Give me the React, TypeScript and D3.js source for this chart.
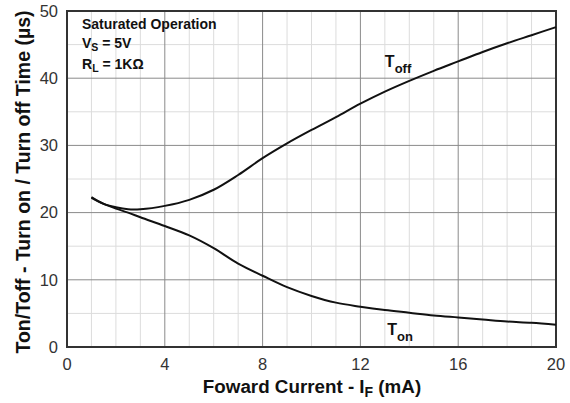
import React from 'react';
import * as d3 from 'd3';

const current = [1, 1.5, 2, 2.5, 3, 4, 5, 6, 7, 8, 9, 10, 11, 12, 13, 14, 15, 16, 17, 18, 19, 20];
const tOff = [22.3, 21.3, 20.8, 20.5, 20.5, 21.0, 21.9, 23.4, 25.6, 28.1, 30.3, 32.3, 34.2, 36.2, 38.0, 39.6, 41.1, 42.5, 43.9, 45.2, 46.4, 47.6];
const tOn = [22.2, 21.3, 20.6, 20.0, 19.3, 18.0, 16.6, 14.7, 12.4, 10.6, 8.9, 7.6, 6.6, 6.0, 5.5, 5.1, 4.7, 4.4, 4.1, 3.8, 3.6, 3.3];
const xTicks = [0, 4, 8, 12, 16, 20];
const yTicks = [0, 10, 20, 30, 40, 50];

const W = 570;
const H = 403;
const margin = { top: 11, right: 14, bottom: 56, left: 67 };
const FONT = '"Liberation Sans", Arial, sans-serif';

export default function App() {
  const innerW = W - margin.left - margin.right;
  const innerH = H - margin.top - margin.bottom;
  const x = d3.scaleLinear().domain([0, 20]).range([0, innerW]);
  const y = d3.scaleLinear().domain([0, 50]).range([innerH, 0]);

  const line = d3
    .line<number>()
    .x((_, i) => x(current[i]))
    .y((d) => y(d))
    .curve(d3.curveCatmullRom);

  const minorX = d3.range(1, 20).filter((v) => v % 4 !== 0);
  const minorY = d3.range(5, 50, 10);

  return (
    <svg width={W} height={H} style={{ position: 'absolute', left: 0, top: 0, background: '#fff' }}>
      <g transform={`translate(${margin.left},${margin.top})`} fontFamily={FONT}>
        {minorX.map((v) => (
          <line key={'mx' + v} x1={x(v)} x2={x(v)} y1={0} y2={innerH} stroke="#dcdcdc" strokeWidth={1} />
        ))}
        {minorY.map((v) => (
          <line key={'my' + v} x1={0} x2={innerW} y1={y(v)} y2={y(v)} stroke="#dcdcdc" strokeWidth={1} />
        ))}
        {xTicks.slice(1, -1).map((v) => (
          <line key={'gx' + v} x1={x(v)} x2={x(v)} y1={0} y2={innerH} stroke="#8a8a8a" strokeWidth={1} />
        ))}
        {yTicks.slice(1, -1).map((v) => (
          <line key={'gy' + v} x1={0} x2={innerW} y1={y(v)} y2={y(v)} stroke="#8a8a8a" strokeWidth={1} />
        ))}
        <rect x={0} y={0} width={innerW} height={innerH} fill="none" stroke="#333" strokeWidth={2} />

        {yTicks.map((v) => (
          <text key={'ty' + v} x={-9} y={y(v)} dy="0.35em" textAnchor="end" fontSize={16.5} fill="#333">
            {v}
          </text>
        ))}
        {xTicks.map((v) => (
          <text key={'tx' + v} x={x(v)} y={innerH + 23} textAnchor="middle" fontSize={16.5} fill="#333">
            {v}
          </text>
        ))}

        <path d={line(tOff) ?? ''} fill="none" stroke="#111" strokeWidth={2} />
        <path d={line(tOn) ?? ''} fill="none" stroke="#111" strokeWidth={2} />

        <text x={x(13)} y={y(41.6)} fontSize={16} fontWeight="bold" fill="#111">
          T<tspan fontSize={13} dy={6}>off</tspan>
        </text>
        <text x={x(13.1)} y={y(1.8)} fontSize={16} fontWeight="bold" fill="#111">
          T<tspan fontSize={13} dy={6}>on</tspan>
        </text>

        <text x={15} y={18} fontSize={14} fontWeight="bold" fill="#111">Saturated Operation</text>
        <text x={15} y={37} fontSize={14} fontWeight="bold" fill="#111">
          V<tspan fontSize={10.5} dy={3}>S</tspan><tspan dy={-3}> = 5V</tspan>
        </text>
        <text x={15} y={58} fontSize={14} fontWeight="bold" fill="#111">
          R<tspan fontSize={10.5} dy={3}>L</tspan><tspan dy={-3}> = 1KΩ</tspan>
        </text>

        <text
          transform={`translate(${-37},${171}) rotate(-90)`}
          textAnchor="middle"
          fontSize={19.5}
          fontWeight="bold"
          fill="#111"
        >
          Ton/Toff - Turn on / Turn off Time  (µs)
        </text>
        <text x={245} y={innerH + 46} textAnchor="middle" fontSize={18.8} fontWeight="bold" fill="#111">
          Foward Current - I<tspan fontSize={14} dy={4}>F</tspan><tspan dy={-4}> (mA)</tspan>
        </text>
      </g>
    </svg>
  );
}
